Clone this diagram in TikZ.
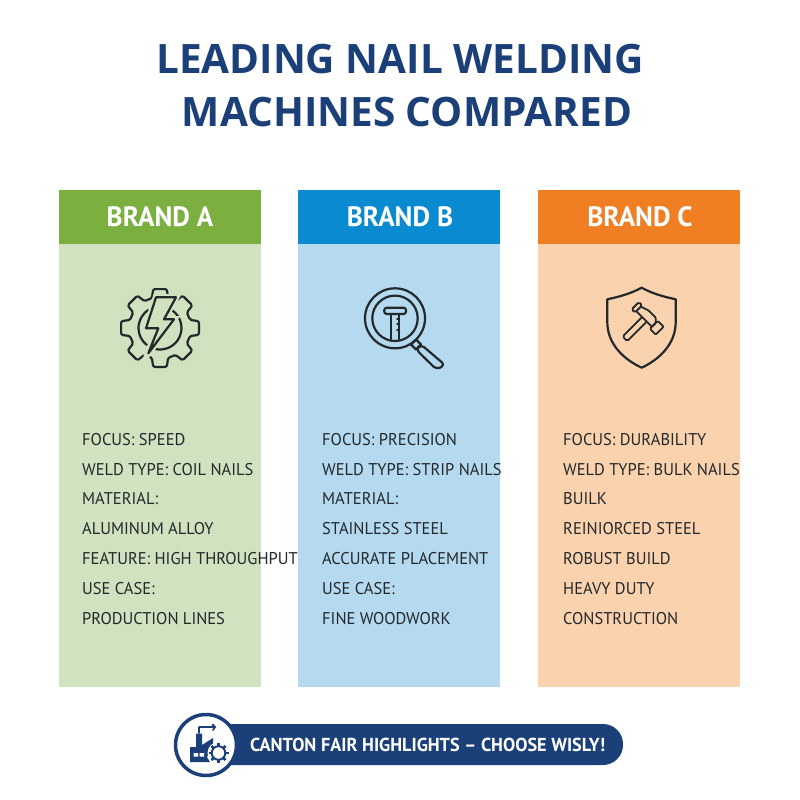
\documentclass[tikz,border=0pt]{standalone}
\usepackage{fontspec}
\setmainfont[FakeStretch=0.97]{PT Sans}
\newfontfamily\titlefont{Open Sans}
\definecolor{navy}{HTML}{1B3F78}
\definecolor{inkc}{HTML}{23282B}
\definecolor{hA}{HTML}{7BB040}
\definecolor{bA}{HTML}{D0E2BF}
\definecolor{hB}{HTML}{0A8AD0}
\definecolor{bB}{HTML}{B5DAF0}
\definecolor{hC}{HTML}{F07F24}
\definecolor{bC}{HTML}{FBD2AE}
\tikzset{
 titletext/.style={text=navy,font=\titlefont\fontsize{40.5}{40.5}\selectfont\bfseries,anchor=center,inner sep=0},
 headtext/.style={text=white,font=\fontsize{28}{28}\selectfont\bfseries,anchor=center,inner sep=0},
 rowtext/.style={text=inkc,font=\fontsize{17}{17}\selectfont,anchor=west,inner sep=0,yshift=-0.8pt},
 iconline/.style={draw=inkc,line width=2.2pt,line join=round,line cap=round},
}
\begin{document}
\begin{tikzpicture}[x=1pt,y=-1pt]
\useasboundingbox (0,0) rectangle (800,800);
\fill[white] (0,0) rectangle (800,800);
\node[titletext] (t1) at (400,59) {LEADING NAIL WELDING};
\node[titletext] (t2) at (407,112) {MACHINES COMPARED};
% panels
\fill[bA] (59,190) rectangle (261,687);
\fill[hA] (59,190) rectangle (261,244);
\fill[bB] (298,190) rectangle (500,687);
\fill[hB] (298,190) rectangle (500,244);
\fill[bC] (538,190) rectangle (740,687);
\fill[hC] (538,190) rectangle (740,244);
\node[headtext] (ha) at (160,217) {BRAND A};
\node[headtext] (hb) at (400,217) {BRAND B};
\node[headtext] (hc) at (640,217) {BRAND C};
% rows
\foreach \nm/\yy/\txt in {a1/439/FOCUS: SPEED,a2/469/WELD TYPE: COIL NAILS,a3/498/MATERIAL:,a4/528/ALUMINUM ALLOY,a5/558/FEATURE: HIGH THROUGHPUT,a6/588/USE CASE:,a7/618/PRODUCTION LINES}
  \node[rowtext] (\nm) at (82,\yy) {\txt};
\foreach \nm/\yy/\txt in {b1/439/FOCUS: PRECISION,b2/469/WELD TYPE: STRIP NAILS,b3/498/MATERIAL:,b4/528/STAINLESS STEEL,b5/558/ACCURATE PLACEMENT,b6/588/USE CASE:,b7/618/FINE WOODWORK}
  \node[rowtext] (\nm) at (322,\yy) {\txt};
\foreach \nm/\yy/\txt in {c1/439/FOCUS: DURABILITY,c2/469/WELD TYPE: BULK NAILS,c3/498/BUILK,c4/528/REINIORCED STEEL,c5/558/ROBUST BUILD,c6/588/HEAVY DUTY,c7/618/CONSTRUCTION}
  \node[rowtext] (\nm) at (563,\yy) {\txt};
% gear icon
\begin{scope}[shift={(160,328)}]
\draw[iconline,rounded corners=1.5pt] (-15:31)
 \foreach \a in {0,45,...,315}{
   -- ({\a-15}:31) -- ({\a-10}:39.5) -- ({\a+10}:39.5) -- ({\a+15}:31)
 } -- cycle;
\draw[iconline] (-122:21.5) arc (-122:-232:21.5);
\draw[iconline] (-55:21.5) arc (-55:104:21.5);
\end{scope}
\path[draw=bA,line width=6.5pt,line join=miter] (156,297.3) -- (176,297.3) -- (164,319.3) -- (174,319.3) -- (148.3,353.3) -- (158.3,328.3) -- (146,328.3) -- cycle;
\draw[iconline,fill=bA] (156,297.3) -- (176,297.3) -- (164,319.3) -- (174,319.3) -- (148.3,353.3) -- (158.3,328.3) -- (146,328.3) -- cycle;
% magnifier icon
\draw[iconline] (395,318.3) circle (30);
\draw[iconline] (395,318.3) circle (22.7);
\draw[iconline] (416,339.5) -- (411,344.5) -- (416,349.5) -- (421,344.5) -- cycle;
\draw[iconline,rounded corners=4pt] (416,349.5) -- (421,344.5) -- (445,365) -- (436.5,369.5) -- cycle;
\draw[iconline,rounded corners=2.5pt] (384.3,307.7) rectangle (406,314);
\draw[iconline] (391,314) -- (391,339) (399.3,314) -- (399.3,339);
\draw[iconline,line width=1.5pt] (397,319) -- (399.3,319) (397,324) -- (399.3,324) (397,330) -- (399.3,330);
% shield icon
\draw[iconline] (641.7,287.7) .. controls (630,294) and (618,297) .. (607.3,299.3) -- (607.3,322)
 .. controls (607.3,345) and (625,360) .. (641.7,367.7)
 .. controls (658,360) and (675.7,345) .. (675.7,322) -- (675.7,299.3)
 .. controls (665,297) and (653,294) .. (641.7,287.7) -- cycle;
\begin{scope}[shift={(648,319)},rotate=-45,scale=0.92]
\draw[iconline,rounded corners=1.5pt,line width=1.8pt] (-6,4) -- (-6,33) -- (1,33) -- (1,4);
\draw[iconline,rounded corners=1.5pt,line width=1.8pt] (-20,-6) -- (-15,-6) -- (-15,5) -- (-20,5) -- cycle;
\draw[iconline,rounded corners=1pt,line width=1.8pt] (-15,-4) -- (-6,-7) -- (5,-7) -- (9,-3) -- (9,3) -- (-15,3);
\draw[iconline,rounded corners=1pt,line width=1.8pt] (9,-6) -- (18,-6) -- (18,6) -- (9,6) -- cycle;
\end{scope}
% footer
\fill[navy,rounded corners=20pt] (200,724) rectangle (623,765);
\node[text=white,font=\fontsize{18.8}{18.8}\selectfont\bfseries,anchor=west,inner sep=0] (ft) at (250,745) {CANTON FAIR HIGHLIGHTS – CHOOSE WISLY!};
\filldraw[fill=white,draw=navy,line width=3.5pt] (206,745) circle (30.5);
% factory
\fill[navy] (190,762) -- (190,747) -- (196,747) -- (196,733.5) -- (202,733.5) -- (202,745) -- (213,738) -- (213,746) -- (207,757) -- (210,762) -- cycle;
\draw[navy,line width=1.8pt,line cap=round,line join=round] (199,733) -- (199,727) -- (215,727) -- (213,730) (215,727) -- (212.5,724.5);
\fill[white] (193.5,753) rectangle (198,756.5) (199.5,753) rectangle (204,756.5);
\begin{scope}[shift={(218.5,753)}]
\fill[white] (0,0) circle (11);
\foreach \a in {0,45,...,315}
  \draw[navy,line width=2.6pt] (\a:6.5) -- (\a:10);
\draw[navy,line width=1.9pt] (0,0) circle (6.8);
\end{scope}
\end{tikzpicture}
\end{document}
